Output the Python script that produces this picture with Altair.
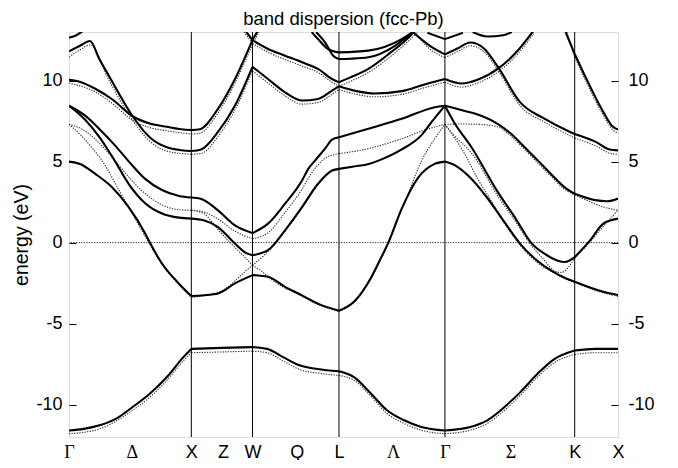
import altair as alt
import pandas as pd

# ---- high-symmetry path (k in units of 2*pi/a) ----
SYM_K = [0.0, 1.0, 1.5, 2.207, 3.073, 4.134, 4.488]
VLINE_K = [1.0, 1.5, 2.207, 3.073, 4.134]
LABEL_K = [0.0, 0.513, 1.0, 1.259, 1.5, 1.861, 2.207, 2.649, 3.073, 3.609, 4.134, 4.488]
LABEL_TXT = ["Γ", "Δ", "X", "Z", "W", "Q", "L", "Λ", "Γ", "Σ", "K", "X"]
GREEK = ["Γ", "Δ", "Λ", "Σ"]
Y_TICKS = [-10, -5, 0, 5, 10]
E_RANGE = [-12, 13]
FERMI = [0.0]
TITLE = ["band dispersion (fcc-Pb)"]

# ---- solid bands (k, E) ----
S1 = [(0, -11.6), (0.12, -11.5), (0.25, -11.28), (0.40, -10.8), (0.52, -10.15), (0.66, -9.33), (0.80, -8.3),
      (0.935, -7.07), (1.0, -6.56), (1.25, -6.5), (1.5, -6.45), (1.62, -6.56), (1.75, -7.07), (1.89, -7.59),
      (2.03, -7.8), (2.207, -7.94), (2.33, -8.3), (2.47, -9.33), (2.60, -10.35), (2.74, -10.97), (2.88, -11.38),
      (3.073, -11.6), (3.28, -11.38), (3.42, -10.97), (3.56, -10.15), (3.69, -9.23), (3.83, -8.1), (3.97, -7.18),
      (4.134, -6.66), (4.3, -6.56), (4.488, -6.56)]
S2 = [(0, 5.0), (0.09, 4.85), (0.215, 4.24), (0.352, 3.42), (0.488, 2.19), (0.624, 0.55), (0.665, -0.06),
      (0.76, -1.29), (0.897, -2.52), (1.0, -3.3), (1.1, -3.25), (1.218, -3.14), (1.357, -2.52), (1.5, -2.01),
      (1.627, -2.11), (1.766, -2.73), (1.89, -3.2), (2.03, -3.75), (2.207, -4.2), (2.336, -3.6), (2.47, -2.15),
      (2.54, -1.1), (2.608, -0.05), (2.72, 2.1), (2.853, 4.0), (2.99, 4.86), (3.073, 5.0), (3.16, 4.75),
      (3.277, 4.03), (3.415, 2.8), (3.55, 1.37), (3.687, -0.06), (3.823, -1.09), (3.959, -1.81), (4.06, -2.2),
      (4.134, -2.42), (4.368, -3.04), (4.488, -3.24)]
S3 = [(0, 8.45), (0.13, 7.6), (0.25, 6.5), (0.37, 5.1), (0.49, 3.6), (0.62, 2.45), (0.76, 1.8), (0.90, 1.54),
      (1.0, 1.48), (1.1, 1.38), (1.218, 0.96), (1.357, -0.06), (1.45, -0.65), (1.5, -0.78), (1.627, -0.47),
      (1.766, 0.76), (1.905, 2.19), (2.036, 3.63), (2.15, 4.45), (2.207, 4.55), (2.33, 4.7), (2.45, 4.85),
      (2.53, 5.06), (2.72, 5.75), (2.88, 6.62), (2.97, 7.5), (3.073, 8.45), (3.15, 7.4), (3.289, 5.9),
      (3.507, 3.1), (3.65, 1.5), (3.777, 0.0), (3.90, -0.75), (3.99, -1.1), (4.055, -1.2), (4.134, -0.9),
      (4.26, 0.14), (4.368, 1.17), (4.488, 1.48)]
S4 = [(0, 8.45), (0.13, 7.85), (0.25, 7.0), (0.37, 6.05), (0.49, 5.0), (0.62, 3.95), (0.76, 3.25), (0.90, 2.88),
      (1.0, 2.78), (1.07, 2.72), (1.218, 1.99), (1.357, 1.06), (1.5, 0.59), (1.627, 1.17), (1.766, 2.4),
      (1.905, 3.83), (1.956, 4.55), (2.011, 5.06), (2.093, 5.8), (2.15, 6.35), (2.207, 6.5), (2.447, 7.03),
      (2.72, 7.64), (2.99, 8.36), (3.073, 8.45), (3.237, 8.13), (3.37, 7.83), (3.507, 7.32), (3.616, 6.7),
      (3.725, 5.88), (3.834, 5.06), (3.94, 4.24), (4.05, 3.42), (4.134, 3.01), (4.30, 2.62), (4.40, 2.55),
      (4.488, 2.72)]
S5 = [(0, 10.05), (0.08, 9.95), (0.215, 9.5), (0.352, 8.85), (0.52, 7.8), (0.66, 7.35), (0.80, 7.15),
      (0.92, 7.0), (1.0, 6.95), (1.07, 7.0), (1.218, 8.26), (1.357, 10.1), (1.5, 12.5), (1.56, 13.3)]
S6 = [(0, 11.8), (0.09, 12.15), (0.172, 12.44), (0.25, 11.3), (0.335, 10.18), (0.52, 7.8), (0.662, 6.49),
      (0.80, 5.88), (0.92, 5.7), (1.0, 5.65), (1.08, 5.75), (1.218, 6.83), (1.357, 8.46), (1.5, 10.85),
      (1.627, 10.1), (1.766, 9.28), (1.905, 8.77), (2.036, 8.87), (2.15, 9.38), (2.207, 9.65), (2.35, 9.35),
      (2.5, 9.2), (2.72, 9.35), (2.9, 9.75), (3.073, 10.1), (3.21, 9.82), (3.34, 10.05), (3.51, 10.75),
      (3.65, 11.7), (3.80, 13.1)]
S7 = [(1.43, 13.2), (1.5, 12.5), (1.627, 11.95), (1.766, 11.54), (1.905, 11.13), (2.036, 10.72), (2.15, 10.1),
      (2.207, 9.9), (2.3, 10.2), (2.447, 10.72), (2.63, 11.74), (2.79, 12.77), (2.84, 13.2)]
S8 = [(1.984, 13.0), (2.036, 12.56), (2.118, 11.95), (2.207, 11.74), (2.447, 11.85), (2.72, 12.56), (2.81, 13.0)]
S9 = [(2.02, 13.0), (2.093, 12.36), (2.16, 11.54), (2.207, 11.33), (2.3, 11.35), (2.447, 11.44), (2.665, 12.15),
      (2.81, 13.0)]
S10 = [(2.81, 13.0), (2.95, 12.15), (3.073, 11.62), (3.18, 12.0), (3.28, 12.35), (3.39, 12.0), (3.51, 10.8),
       (3.687, 8.67), (3.89, 7.64), (4.096, 6.83), (4.134, 6.7), (4.31, 6.2), (4.42, 5.75), (4.488, 5.69)]
S11 = [(4.06, 13.0), (4.134, 11.64), (4.23, 10.1), (4.368, 8.06), (4.44, 7.2), (4.488, 6.98)]
S12 = [(0, 12.65), (0.06, 12.8), (0.12, 13.1)]
S13 = [(2.93, 12.95), (3.073, 12.56), (3.22, 12.95)]
S14 = [(3.30, 13.0), (3.42, 12.72), (3.55, 12.8), (3.62, 13.0)]

# ---- dotted bands (k, E) ----
D1 = [(0, -11.8), (0.25, -11.5), (0.52, -10.35), (0.66, -9.55), (0.80, -8.5), (0.935, -7.3), (1.0, -6.8),
      (1.25, -6.75), (1.5, -6.7), (1.62, -6.8), (1.75, -7.3), (1.89, -7.85), (2.03, -8.05), (2.207, -8.2),
      (2.33, -8.5), (2.47, -9.5), (2.60, -10.55), (2.74, -11.17), (2.88, -11.58), (3.073, -11.8),
      (3.28, -11.58), (3.42, -11.17), (3.56, -10.35), (3.69, -9.43), (3.83, -8.3), (3.97, -7.4),
      (4.134, -6.9), (4.3, -6.8), (4.488, -6.8)]
D2 = [(0, 7.3), (0.1, 6.6), (0.2, 5.75), (0.27, 5.06), (0.4, 3.35), (0.52, 1.75), (0.652, 0.0), (0.76, -1.35),
      (0.9, -2.6), (1.0, -3.38), (1.15, -3.2), (1.28, -2.85), (1.36, -2.35), (1.43, -1.85), (1.5, -1.4),
      (1.6, -0.75), (1.68, -0.1), (1.766, 0.7), (1.905, 2.15), (2.036, 3.6), (2.15, 4.4), (2.207, 4.5)]
D3 = [(0, 7.3), (0.12, 6.95), (0.253, 6.1), (0.4, 4.85), (0.523, 3.75), (0.66, 2.8), (0.8, 2.2), (0.92, 2.02),
      (1.0, 2.0), (1.1, 1.8), (1.218, 0.8), (1.357, -0.3), (1.43, -0.85), (1.5, -1.4), (1.58, -1.8),
      (1.65, -2.25), (1.766, -2.8), (1.89, -3.25), (2.03, -3.8), (2.207, -4.25), (2.336, -3.65), (2.47, -2.2),
      (2.54, -1.15), (2.608, -0.1), (2.7, 1.7), (2.75, 2.6), (2.883, 5.06), (2.98, 6.3), (3.073, 7.3)]
D4 = [(1.0, 2.0), (1.1, 1.9), (1.218, 1.45), (1.357, 0.7), (1.5, 0.24), (1.627, 0.6), (1.766, 1.85),
      (1.905, 3.3), (1.984, 4.3), (2.093, 5.2), (2.207, 5.49), (2.447, 5.8), (2.72, 6.41), (2.935, 7.02),
      (3.073, 7.3)]
D5 = [(0, 9.85), (0.215, 9.3), (0.352, 8.6), (0.52, 7.55), (0.66, 7.1), (0.8, 6.9), (1.0, 6.7), (1.07, 6.75),
      (1.218, 8.0), (1.357, 9.85), (1.5, 12.25), (1.56, 13.1)]
D6 = [(0, 11.45), (0.09, 11.9), (0.172, 12.2), (0.335, 9.9), (0.52, 7.55), (0.662, 6.25), (0.8, 5.65),
      (1.0, 5.45), (1.08, 5.5), (1.218, 6.55), (1.357, 8.2), (1.5, 10.6), (1.627, 9.85), (1.766, 9.05),
      (1.905, 8.55), (2.036, 8.65), (2.15, 9.15), (2.207, 9.45), (2.35, 9.15), (2.5, 9.0), (2.72, 9.15),
      (2.9, 9.55), (3.073, 9.9), (3.21, 9.6), (3.34, 9.85), (3.51, 10.55), (3.65, 11.5), (3.80, 12.9)]
D7 = [(1.43, 13.0), (1.5, 12.3), (1.627, 11.75), (1.766, 11.3), (1.905, 10.9), (2.036, 10.5), (2.15, 9.9),
      (2.207, 9.65), (2.3, 9.95), (2.447, 10.5), (2.63, 11.5), (2.79, 12.55), (2.86, 13.1)]
D8 = [(3.073, 7.3), (3.2, 7.32), (3.35, 7.3), (3.5, 7.15), (3.616, 6.55), (3.725, 5.75), (3.834, 4.9),
      (3.94, 4.1), (4.05, 3.3), (4.134, 2.95), (4.25, 2.55), (4.368, 2.2), (4.488, 2.0)]
D9 = [(3.073, 7.3), (3.235, 5.47), (3.344, 3.9), (3.45, 2.6), (3.55, 1.3), (3.687, -0.15), (3.823, -1.2),
      (3.96, -1.85), (4.06, -2.25), (4.134, -2.45), (4.368, -3.1), (4.488, -3.32)]
D10 = [(3.073, 7.3), (3.15, 6.6), (3.289, 5.55), (3.507, 2.85), (3.65, 1.3), (3.777, -0.15), (3.87, -0.95),
       (3.96, -1.7), (4.02, -1.85), (4.134, -0.95), (4.26, 0.05), (4.368, 1.0), (4.488, 2.0)]
D11 = [(2.82, 13.0), (2.95, 11.95), (3.073, 11.42), (3.18, 11.8), (3.28, 12.15), (3.39, 11.8), (3.51, 10.6),
       (3.687, 8.45), (3.89, 7.42), (4.096, 6.6), (4.134, 6.45), (4.31, 5.95), (4.42, 5.52), (4.488, 5.45)]
D12 = [(4.07, 13.0), (4.134, 11.45), (4.23, 9.9), (4.368, 7.85), (4.44, 7.0), (4.488, 6.75)]

SOLID = {"S1": S1, "S2": S2, "S3": S3, "S4": S4, "S5": S5, "S6": S6, "S7": S7, "S8": S8,
         "S9": S9, "S10": S10, "S11": S11, "S12": S12, "S13": S13, "S14": S14}
DOTTED = {"D1": D1, "D2": D2, "D3": D3, "D4": D4, "D5": D5, "D6": D6, "D7": D7, "D8": D8,
          "D9": D9, "D10": D10, "D11": D11, "D12": D12}


def split_segments(bands):
    rows = []
    for name, pts in bands.items():
        for i in range(len(SYM_K) - 1):
            a, b = SYM_K[i], SYM_K[i + 1]
            seg = [(k, e) for k, e in pts if a - 1e-9 <= k <= b + 1e-9]
            if len(seg) >= 2:
                for j, (k, e) in enumerate(seg):
                    rows.append({"k": k, "E": e, "curve": f"{name}_{i}", "order": j})
    return pd.DataFrame(rows)


solid_df = split_segments(SOLID)
dotted_df = split_segments(DOTTED)
vline_df = pd.DataFrame({"k": VLINE_K})
fermi_df = pd.DataFrame({"E": FERMI})
title_df = pd.DataFrame({"t": TITLE})

label_expr = "".join(f"abs(datum.value - {k}) < 0.005 ? '{t}' : " for k, t in zip(LABEL_K, LABEL_TXT)) + "''"
greek_test = " || ".join(f"abs(datum.value - {k}) < 0.005" for k, t in zip(LABEL_K, LABEL_TXT) if t in GREEK)

PLOT_W, PLOT_H = 549, 405

x_scale = alt.Scale(domain=[SYM_K[0], SYM_K[-1]], nice=False, zero=False)
y_scale = alt.Scale(domain=E_RANGE, nice=False, zero=False)

x_axis = alt.Axis(values=LABEL_K, labelExpr=label_expr, ticks=False, domain=False, grid=False,
                  labelFlush=False, labelOverlap=False, labelFontSize=18, labelPadding=6,
                  labelColor="black", title=None,
                  labelFont={"condition": {"test": greek_test, "value": "Liberation Serif"},
                             "value": "Liberation Sans"})
x_enc = alt.X("k:Q", scale=x_scale, axis=x_axis)

left_axis = alt.Axis(orient="left", values=Y_TICKS, offset=-7, tickSize=7, tickColor="black", tickWidth=1,
                     domain=False, grid=False, labelPadding=7, labelFontSize=18, labelFont="Liberation Sans",
                     labelColor="black", labelExpr="'' + datum.value", title="energy (eV)",
                     titleFontSize=19.5, titleFont="Liberation Sans", titleFontWeight="normal",
                     titleColor="black", titlePadding=4)
right_axis = alt.Axis(orient="right", values=Y_TICKS, offset=-7, tickSize=7, tickColor="black", tickWidth=1,
                      domain=False, grid=False, labelPadding=10, labelFontSize=18, labelFont="Liberation Sans",
                      labelColor="black", labelExpr="'' + datum.value", title=None)

solid = alt.Chart(solid_df).mark_line(interpolate="monotone", color="black", strokeWidth=2.1, clip=True).encode(
    x=x_enc, y=alt.Y("E:Q", scale=y_scale, axis=left_axis), detail="curve:N", order="order:Q")

dotted = alt.Chart(dotted_df).mark_line(interpolate="monotone", color="#333333", strokeWidth=1.1,
                                        strokeDash=[1.3, 1.3], clip=True).encode(
    x=x_enc, y=alt.Y("E:Q", scale=y_scale, axis=None), detail="curve:N", order="order:Q")

vlines = alt.Chart(vline_df).mark_rule(color="black", strokeWidth=1).encode(x=x_enc)

fermi = alt.Chart(fermi_df).mark_rule(color="#333333", strokeWidth=1, strokeDash=[1.3, 1.3]).encode(
    y=alt.Y("E:Q", scale=y_scale, axis=right_axis))

title = alt.Chart(title_df).mark_text(fontSize=18.5, font="Liberation Sans", align="center",
                                      baseline="alphabetic", color="black").encode(
    text="t:N", x=alt.value(PLOT_W / 2), y=alt.value(-7))

chart = alt.layer(dotted, vlines, fermi, solid, title).resolve_axis(y="independent").properties(
    width=PLOT_W, height=PLOT_H,
    autosize=alt.AutoSizeParams(type="none"),
    padding={"left": 61, "top": 24, "right": 52, "bottom": 23},
).configure_view(stroke="black", strokeWidth=1).configure(background="white")

chart.save("out.html", embed_options={"renderer": "svg", "actions": False})
